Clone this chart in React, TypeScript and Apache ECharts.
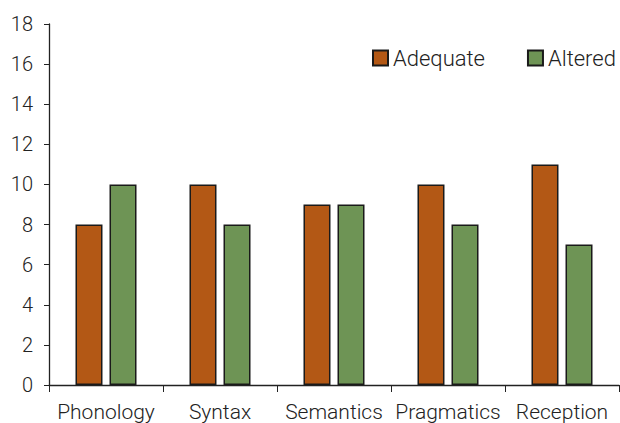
import React, { useEffect, useRef } from "react";
import * as echarts from "echarts";

const categories = ["Phonology", "Syntax", "Semantics", "Pragmatics", "Reception"];
const adequate = [8, 10, 9, 10, 11];
const altered = [10, 8, 9, 8, 7];
const yTicks = { min: 0, max: 18, interval: 2 };

export default function App() {
  const ref = useRef<HTMLDivElement>(null);
  useEffect(() => {
    const chart = echarts.init(ref.current!, null, { renderer: "svg" });
    const font = "Roboto, 'Noto Sans', sans-serif";
    chart.setOption({
      animation: false,
      backgroundColor: "#ffffff",
      textStyle: { fontFamily: font },
      grid: { left: 49, right: 1, top: 24, bottom: 38, containLabel: false },
      legend: {
        orient: "horizontal",
        left: 372,
        top: 47,
        width: 248,
        padding: 0,
        itemWidth: 15,
        itemHeight: 15,
        itemGap: 42,
        icon: "rect",
        textStyle: { fontSize: 22, color: "#222", fontFamily: font, fontWeight: 300 },
        data: ["Adequate", "Altered"],
      },
      xAxis: {
        type: "category",
        data: categories,
        axisLine: { lineStyle: { color: "#222", width: 1.3 } },
        axisTick: { show: true, length: 7, alignWithLabel: false, lineStyle: { color: "#222" } },
        axisLabel: { fontSize: 21, color: "#222", margin: 16, interval: 0, fontFamily: font, fontWeight: 300 },
      },
      yAxis: {
        type: "value",
        min: yTicks.min,
        max: yTicks.max,
        interval: yTicks.interval,
        splitLine: { show: false },
        axisLine: { show: true, lineStyle: { color: "#222", width: 1.3 } },
        axisTick: { show: true, length: 5, lineStyle: { color: "#222" } },
        axisLabel: { fontSize: 20, color: "#222", margin: 16, fontFamily: font, fontWeight: 300 },
      },
      series: [
        {
          name: "Adequate",
          type: "bar",
          data: adequate,
          barWidth: 27,
          barGap: "26%",
          itemStyle: { color: "#B35815", borderColor: "#1a1a1a", borderWidth: 1.5 },
        },
        {
          name: "Altered",
          type: "bar",
          data: altered,
          barWidth: 27,
          barGap: "26%",
          itemStyle: { color: "#6E9455", borderColor: "#1a1a1a", borderWidth: 1.5 },
        },
      ],
    });
    return () => chart.dispose();
  }, []);
  return (
    <div
      ref={ref}
      style={{ position: "absolute", left: 0, top: 0, width: 620, height: 423 }}
    />
  );
}
